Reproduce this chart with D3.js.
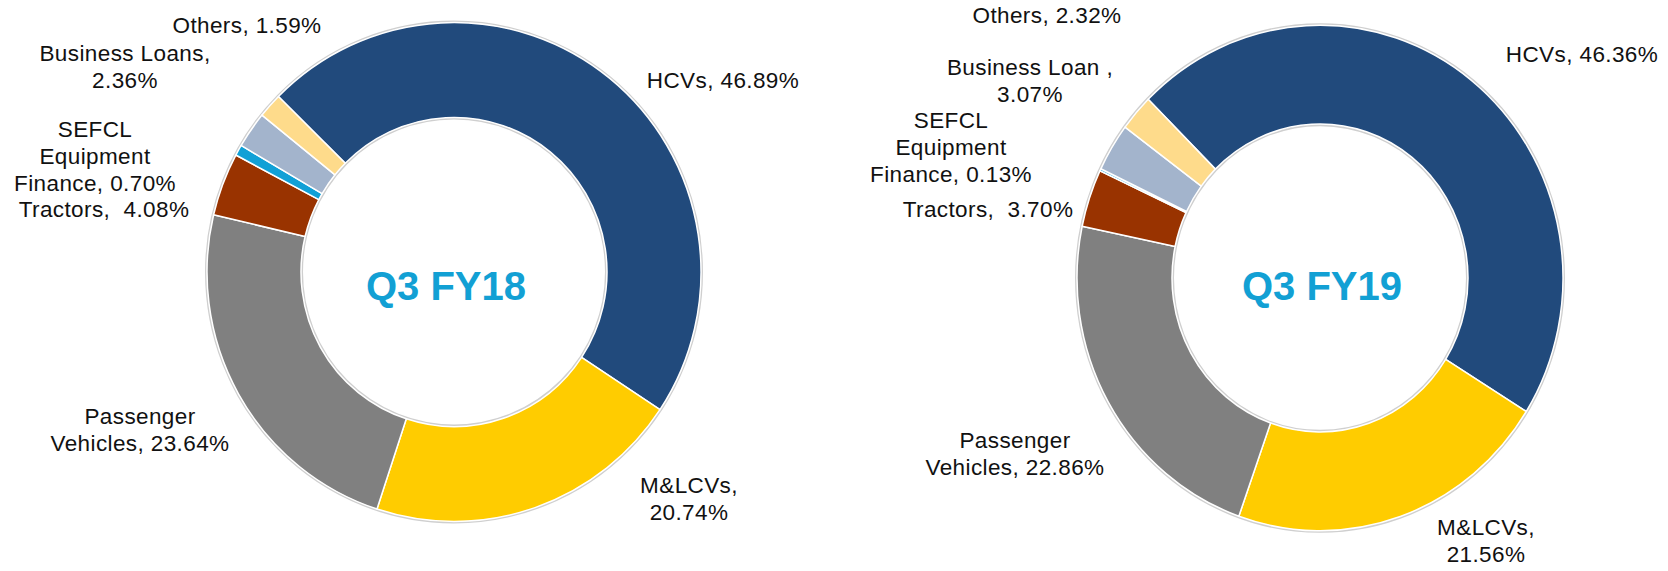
<!DOCTYPE html>
<html>
<head>
<meta charset="utf-8">
<script src="https://cdn.jsdelivr.net/npm/d3@7"></script>
<style>
  html, body { margin: 0; padding: 0; background: #ffffff; }
  svg { display: block; }
  text { font-family: "Liberation Sans", Arial, sans-serif; }
</style>
</head>
<body>
<svg id="chart" width="1668" height="571"></svg>
<script>
// ---------------- DATA ----------------
const categories = ["HCVs", "M&LCVs", "Passenger Vehicles", "Tractors", "SEFCL Equipment Finance", "Business Loans", "Others"];
const valuesFY18 = [46.89, 20.74, 23.64, 4.08, 0.70, 2.36, 1.59];
const valuesFY19 = [46.36, 21.56, 22.86, 3.70, 0.13, 3.07, 2.32];
const titles = ["Q3 FY18", "Q3 FY19"];
// label text lines (as printed)
const labelsFY18 = [
  ["HCVs, 46.89%"],
  ["M&LCVs,", "20.74%"],
  ["Passenger", "Vehicles, 23.64%"],
  ["Tractors,  4.08%"],
  ["SEFCL", "Equipment", "Finance, 0.70%"],
  ["Business Loans,", "2.36%"],
  ["Others, 1.59%"]
];
const labelsFY19 = [
  ["HCVs, 46.36%"],
  ["M&LCVs,", "21.56%"],
  ["Passenger", "Vehicles, 22.86%"],
  ["Tractors,  3.70%"],
  ["SEFCL", "Equipment", "Finance, 0.13%"],
  ["Business Loan ,", "3.07%"],
  ["Others, 2.32%"]
];
const colors = ["#214A7C", "#FFCC00", "#808080", "#993300", "#11A0D6", "#A3B4CC", "#FEDB8B"];

// ---------------- LAYOUT ----------------
const svg = d3.select("#chart");
const color = d3.scaleOrdinal().domain(categories).range(colors);

const charts = [
  { values: valuesFY18, labels: labelsFY18, title: titles[0],
    cx: 454, cy: 272, rOuter: 247, rInner: 153, sy: 1.01, start: -45.3,
    titlePos: [446, 300],
    labelPos: [[723, 88], [689, 493], [140, 424], [104, 217], [95, 137], [125, 61], [247, 33]] },
  { values: valuesFY19, labels: labelsFY19, title: titles[1],
    cx: 1320, cy: 278, rOuter: 243, rInner: 148, sy: 1.04, start: -45,
    titlePos: [1322, 300],
    labelPos: [[1582, 62], [1486, 535], [1015, 448], [988, 217], [951, 128], [1030, 75], [1047, 23]] }
];

const lineH = 27;

charts.forEach(c => {
  const pie = d3.pie().sort(null).value(d => d.v)
    .startAngle(c.start * Math.PI / 180)
    .endAngle(c.start * Math.PI / 180 + 2 * Math.PI);
  const data = categories.map((k, i) => ({ k, v: c.values[i] }));
  const arcs = pie(data);
  const arc = d3.arc().innerRadius(c.rInner).outerRadius(c.rOuter);

  const g = svg.append("g")
    .attr("transform", `translate(${c.cx},${c.cy}) scale(1,${c.sy})`);

  // faint shadow rings
  g.append("circle").attr("r", c.rOuter + 1).attr("fill", "none")
    .attr("stroke", "#cfcfcf").attr("stroke-width", 2);
  g.append("circle").attr("r", c.rInner - 1).attr("fill", "none")
    .attr("stroke", "#cfcfcf").attr("stroke-width", 2);

  g.selectAll("path").data(arcs).join("path")
    .attr("d", arc)
    .attr("fill", d => color(d.data.k))
    .attr("stroke", "#ffffff")
    .attr("stroke-width", 1.5)
    .attr("stroke-linejoin", "round");

  // title
  svg.append("text")
    .attr("x", c.titlePos[0]).attr("y", c.titlePos[1])
    .attr("text-anchor", "middle")
    .attr("font-size", 40).attr("font-weight", "bold")
    .attr("fill", "#12A0D4")
    .text(c.title);

  // labels
  c.labels.forEach((lines, i) => {
    const t = svg.append("text")
      .attr("text-anchor", "middle")
      .attr("font-size", 22.5)
      .attr("letter-spacing", 0.4)
      .attr("fill", "#111111");
    lines.forEach((ln, j) => {
      t.append("tspan")
        .attr("x", c.labelPos[i][0])
        .attr("y", c.labelPos[i][1] + j * lineH)
        .attr("xml:space", "preserve")
        .style("white-space", "pre")
        .text(ln);
    });
  });
});
</script>
</body>
</html>
